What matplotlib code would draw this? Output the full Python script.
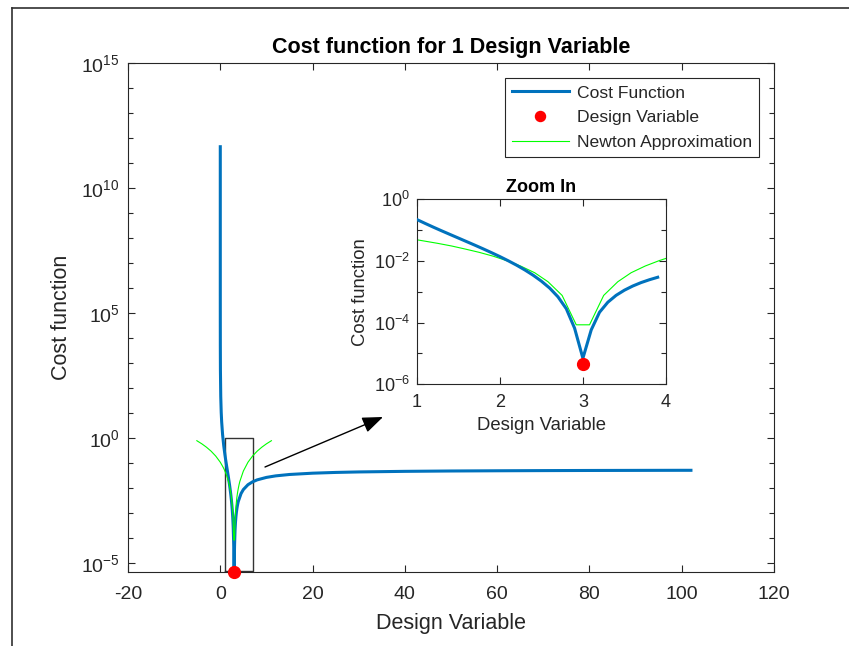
import math
import matplotlib
matplotlib.use("Agg")
import matplotlib.pyplot as plt
from matplotlib.lines import Line2D
from matplotlib.ticker import FixedLocator, FuncFormatter, NullFormatter

plt.rcParams["font.family"] = ["Liberation Sans", "DejaVu Sans"]
plt.rcParams["mathtext.fontset"] = "custom"
plt.rcParams["mathtext.rm"] = "Liberation Sans"
plt.rcParams["mathtext.it"] = "Liberation Sans:italic"
plt.rcParams["mathtext.bf"] = "Liberation Sans:bold"
plt.rcParams["axes.unicode_minus"] = False

# Cost function samples
cost_x = [1e-6, 3e-6, 1e-5, 3e-5, 1e-4, 3e-4, 1e-3, 3e-3, 0.01, 0.03, 0.1, 0.2,
          0.3, 0.5, 0.75, 1.0, 1.1, 1.2, 1.3, 1.4, 1.5, 1.6, 1.7, 1.8, 1.9, 2.0,
          2.1, 2.2, 2.3, 2.4, 2.5, 2.6, 2.7, 2.8, 2.9, 3.0, 3.1, 3.2, 3.3, 3.4,
          3.5, 3.6, 3.7, 3.8, 3.9, 4.5, 5, 6, 7, 8, 10, 12, 15, 20, 25, 30,
          40, 50, 60, 70, 80, 90, 100, 102]
cost_y = [4.5e11, 5.6e10, 5.0e9, 5.6e8, 5.0e7, 5.6e6, 5.0e5, 5.5e4, 4.95e3,
          5.4e2, 46.7, 10.9, 4.5, 1.39, 0.5, 0.222, 0.166, 0.125, 0.0950,
          0.0726, 0.0556, 0.0425, 0.0325, 0.0247, 0.0186, 0.0139, 0.0102,
          0.00735, 0.00514, 0.00347, 0.00222, 0.00132, 0.000686, 0.000283,
          6.6e-5, 7.0e-6, 5.8e-5, 2.17e-4, 0.000459, 0.000769, 0.00113,
          0.00154, 0.00199, 0.00246, 0.00296, 0.00617, 0.00889, 0.0139,
          0.0181, 0.0217, 0.0272, 0.0313, 0.0356, 0.0401, 0.0430, 0.0450,
          0.0475, 0.0491, 0.0501, 0.0509, 0.0515, 0.0519, 0.0523, 0.0523]

# Newton (quadratic) approximation samples
newton_x = [-5.08, -4, -3, -2, -1, 0, 0.58, 0.75, 0.92, 1.08, 1.25, 1.42, 1.58,
            1.75, 1.92, 2.08, 2.25, 2.42, 2.58, 2.75, 2.92, 3.08, 3.25, 3.42,
            3.58, 3.75, 3.92, 4.08, 4.25, 5, 6, 7, 8, 9, 10, 11.08]
newton_y = [0.797, 0.598, 0.439, 0.305, 0.195, 0.110, 0.0714, 0.0618, 0.0529,
            0.0448, 0.0374, 0.0306, 0.0245, 0.0191, 0.0143, 0.0103, 0.00686,
            0.00415, 0.00212, 0.000763, 8.5e-5, 8.5e-5, 0.000763, 0.00212,
            0.00415, 0.00686, 0.0103, 0.0143, 0.0191, 0.0488, 0.110, 0.195,
            0.305, 0.439, 0.598, 0.797]

# Optimum design variable
design_x = [3.0]
design_y = [4.5e-6]

# Zoom window
zoom_x = [1, 7]
zoom_y = [5.0e-6, 1.0]

main_xticks = [-20, 0, 20, 40, 60, 80, 100, 120]
main_yticks = [1e-5, 1e0, 1e5, 1e10, 1e15]
inset_xticks = [1, 2, 3, 4]
inset_yticks = [1e-6, 1e-4, 1e-2, 1e0]

BLUE = "#0072BD"
GREEN = "#00FF00"
RED = "#FF0000"
AX = "#262626"


def pow10(v, pos):
    e = int(round(math.log10(v)))
    return r"$\mathregular{10^{%d}}$" % e


def style_axes(ax, size):
    for s in ax.spines.values():
        s.set_color(AX)
        s.set_linewidth(0.8)
    ax.tick_params(which="both", direction="in", top=True, right=True,
                   colors=AX, labelsize=size, width=0.8)
    ax.tick_params(which="major", length=5)
    ax.tick_params(which="minor", length=3.5)


fig = plt.figure(figsize=(8.49, 6.46), dpi=100)

# Figure border
fig.add_artist(Line2D([11.5 / 849, 1.0], [1 - 7.5 / 646, 1 - 7.5 / 646],
                      transform=fig.transFigure, color="#303030", lw=1.2))
fig.add_artist(Line2D([11.5 / 849, 11.5 / 849], [0.0, 1 - 7.5 / 646],
                      transform=fig.transFigure, color="#303030", lw=1.2))

ax = fig.add_axes([128 / 849, 1 - 572 / 646, 646 / 849, 509 / 646])
ax.set_yscale("log")
l1, = ax.plot(cost_x, cost_y, color=BLUE, lw=2.2, label="Cost Function", zorder=3)
l2, = ax.plot(design_x, design_y, "o", color=RED, ms=8.5, label="Design Variable",
              zorder=5, clip_on=False)
l3, = ax.plot(newton_x, newton_y, color=GREEN, lw=0.8, label="Newton Approximation",
              zorder=4)
ax.plot([zoom_x[0], zoom_x[1], zoom_x[1], zoom_x[0], zoom_x[0]],
        [zoom_y[0], zoom_y[0], zoom_y[1], zoom_y[1], zoom_y[0]],
        color="#333333", lw=1.0, zorder=2)
ax.set_xlim(-20, 120)
ax.set_ylim(design_y[0], 1e15)
ax.xaxis.set_major_locator(FixedLocator(main_xticks))
ax.yaxis.set_major_locator(FixedLocator(main_yticks))
ax.yaxis.set_minor_locator(FixedLocator([10.0 ** k for k in range(-5, 16)]))
ax.yaxis.set_minor_formatter(NullFormatter())
ax.yaxis.set_major_formatter(FuncFormatter(pow10))
style_axes(ax, 14)
ax.tick_params(axis="x", pad=10)
ax.tick_params(axis="y", pad=6)
ax.set_title("Cost function for 1 Design Variable", fontsize=15.5, fontweight="bold",
             color="black", pad=7)
ax.set_xlabel("Design Variable", fontsize=15.5, color=AX, labelpad=7)
ax.set_ylabel("Cost function", fontsize=15.5, color=AX, labelpad=6)

leg = ax.legend(handles=[l1, l2, l3], loc="upper right",
                bbox_to_anchor=(759.3 / 849, 1 - 78.3 / 646),
                bbox_transform=fig.transFigure, borderaxespad=0,
                fontsize=12.6, fancybox=False, framealpha=1, edgecolor="#262626",
                handlelength=3.3, handletextpad=0.45, labelspacing=0.55,
                borderpad=0.4, markerscale=0.85)
leg.get_frame().set_linewidth(0.8)
for t in leg.get_texts():
    t.set_color(AX)

# Inset
ins = fig.add_axes([416.7 / 849, 1 - 384.3 / 646, 249.3 / 849, 185 / 646])
ins.set_yscale("log")
sel = [i for i, v in enumerate(cost_x) if 1.0 <= v <= 3.9]
ins.plot([cost_x[i] for i in sel], [cost_y[i] for i in sel], color=BLUE, lw=2.2,
         zorder=3)
ins.plot(newton_x, newton_y, color=GREEN, lw=0.8, zorder=2)
ins.plot(design_x, design_y, "o", color=RED, ms=8.5, zorder=5)
ins.set_xlim(1, 4)
ins.set_ylim(1e-6, 1e0)
ins.xaxis.set_major_locator(FixedLocator(inset_xticks))
ins.yaxis.set_major_locator(FixedLocator(inset_yticks))
ins.yaxis.set_minor_locator(FixedLocator([1e-5, 1e-3, 1e-1]))
ins.yaxis.set_minor_formatter(NullFormatter())
ins.yaxis.set_major_formatter(FuncFormatter(pow10))
style_axes(ins, 13)
ins.tick_params(axis="x", pad=7)
ins.tick_params(axis="y", pad=5)
ins.set_title("Zoom In", fontsize=13, fontweight="bold", color="black", pad=5)
ins.set_xlabel("Design Variable", fontsize=13.3, color=AX, labelpad=4)
ins.set_ylabel("Cost function", fontsize=13.3, color=AX, labelpad=3)

# Arrow pointing from the zoom window to the inset
fig.add_artist(plt.Annotation(
    "", xy=(383 / 849, 1 - 417 / 646), xytext=(265 / 849, 1 - 467 / 646),
    xycoords="figure fraction", textcoords="figure fraction",
    arrowprops=dict(arrowstyle="-|>,head_length=0.9,head_width=0.35",
                    color="black", lw=1.0, mutation_scale=14,
                    shrinkA=0, shrinkB=0)))

fig.savefig("out.png", dpi=100)
